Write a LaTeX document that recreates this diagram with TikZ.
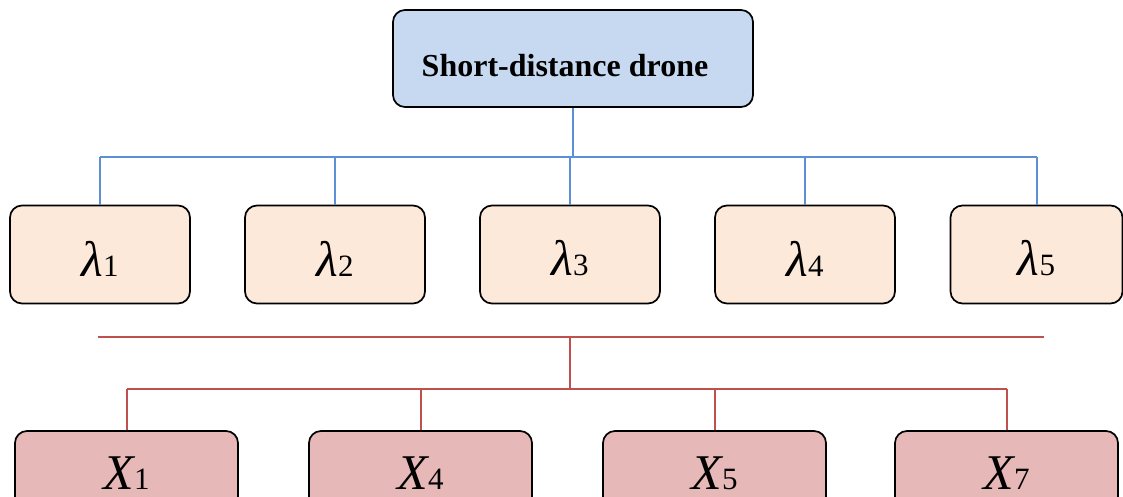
\documentclass[tikz,border=0pt]{standalone}
\usepackage{fontspec}
\setmainfont{Liberation Serif}
\definecolor{droneblue}{RGB}{198,217,240}
\definecolor{lampeach}{RGB}{253,233,217}
\definecolor{xrose}{RGB}{230,184,183}
\definecolor{busblue}{RGB}{91,144,214}
\definecolor{busred}{RGB}{192,80,77}
% symbol with a digit set beside it
\newcommand\boxsym[2]{{\fontsize{50}{50}\selectfont\itshape #1}{\fontsize{31}{31}\selectfont #2}}
% lower a label inside its box
\newcommand\sinktext[2]{\raisebox{-#1}[\height][\depth]{#2}}

\begin{document}
\begin{tikzpicture}[x=1pt,y=-1pt,
  box/.style={draw,line width=1.7pt,rounded corners=12pt,inner sep=0pt,
    minimum width=180pt,minimum height=98pt},
  bluebus/.style={draw=busblue,line width=2pt},
  redbus/.style={draw=busred,line width=2pt}]
  \clip (0,0) rectangle (1123,497);

  \node[box,fill=droneblue,minimum width=360pt,minimum height=97pt] (top) at (573,58.5)
    {\fontsize{32}{32}\selectfont\bfseries\hspace*{-16pt}\sinktext{7pt}{Short-distance drone}};

  % second level
  \foreach \i/\x in {1/100,2/335,3/570,4/805} {
    \node[box,fill=lampeach] (l\i) at (\x,254.5) {\sinktext{4pt}{\boxsym{λ}{\i}}};
  }
  \node[box,fill=lampeach,minimum width=172pt] (l5) at (1036.5,254.5) {\sinktext{4pt}{\boxsym{λ}{5}}};

  \coordinate (bl) at (100,157);
  \coordinate (br) at (1036.5,157);
  \draw[bluebus] (bl) -- (br);
  \draw[bluebus] (top.south) -- (top.south |- bl);
  \foreach \i in {1,...,5}
    \draw[bluebus] (l\i.north) -- (l\i.north |- bl);

  % third level
  \foreach \i/\x in {1/126.5,4/420.5,5/714.5,7/1006.5} {
    \node[box,fill=xrose,minimum width=223pt,minimum height=84pt] (x\i) at (\x,473) {\boxsym{X}{\i}};
  }

  \coordinate (ra) at (98,337);
  \coordinate (rb) at (1044,337);
  \coordinate (rm) at (570,337);
  \coordinate (rl) at (126.5,389);
  \coordinate (rr) at (1006.5,389);
  \draw[redbus] (ra) -- (rb);
  \draw[redbus] (rm) -- (rm |- rl);
  \draw[redbus] (rl) -- (rr);
  \foreach \i in {1,4,5,7}
    \draw[redbus] (x\i.north) -- (x\i.north |- rl);
\end{tikzpicture}
\end{document}
